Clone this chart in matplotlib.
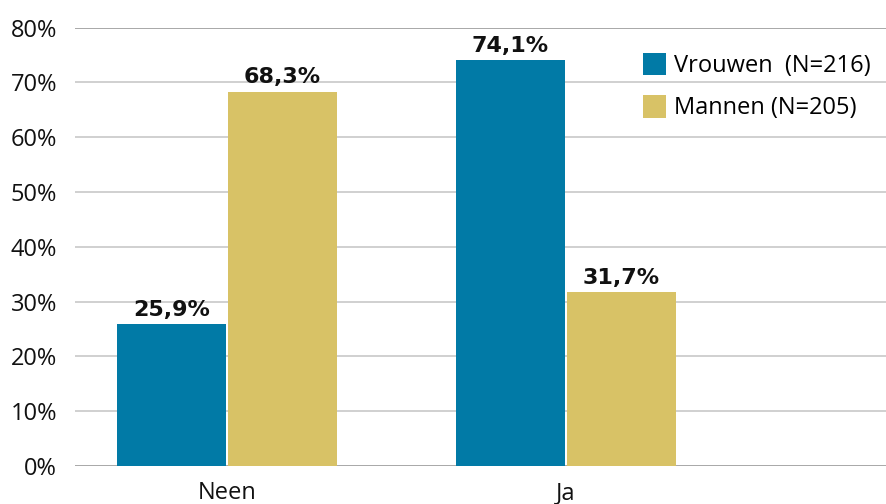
import matplotlib
matplotlib.use("Agg")
import matplotlib.pyplot as plt
import numpy as np

categories = ["Neen", "Ja"]
vrouwen = [25.9, 74.1]
mannen = [68.3, 31.7]
series_labels = ["Vrouwen  (N=216)", "Mannen (N=205)"]
yticks = [0, 10, 20, 30, 40, 50, 60, 70, 80]

BLUE = "#017AA6"
GOLD = "#D8C266"

plt.rcParams["font.family"] = ["Open Sans", "DejaVu Sans"]

fig = plt.figure(figsize=(8.86, 5.04), dpi=100)
ax = fig.add_axes([0.0847, 0.0754, 0.9153, 0.870])

x = np.arange(len(categories))
w = 0.3215
gap = 0.003
b1 = ax.bar(x - w / 2 - gap, vrouwen, w, color=BLUE, label=series_labels[0], zorder=3)
b2 = ax.bar(x + w / 2 + gap, mannen, w, color=GOLD, label=series_labels[1], zorder=3)

for bars, vals in ((b1, vrouwen), (b2, mannen)):
    for bar, v in zip(bars, vals):
        ax.annotate(("%.1f%%" % v).replace(".", ","),
                    (bar.get_x() + bar.get_width() / 2, v),
                    xytext=(0, 3), textcoords="offset points",
                    ha="center", va="bottom", fontsize=16, fontweight="bold",
                    family="DejaVu Sans", color="#111111")

ax.set_xlim(-0.448, 1.944)
ax.set_ylim(0, 80)
ax.set_yticks(yticks)
ax.set_yticklabels(["%d%%" % t for t in yticks])
ax.set_xticks(x)
ax.set_xticklabels(categories)
ax.tick_params(axis="both", length=0, labelsize=17, colors="#111111")
ax.tick_params(axis="y", pad=13)
ax.tick_params(axis="x", pad=11)

for t in yticks:
    c = "#9a9a9a" if t in (0, 80) else "#c8c8c8"
    ax.axhline(t, color=c, linewidth=1.2, zorder=1)
for s in ax.spines.values():
    s.set_visible(False)

leg = ax.legend(loc="upper left", bbox_to_anchor=(0.689, 0.964), frameon=False,
                fontsize=17, handlelength=0.97, handleheight=1.1,
                handletextpad=0.35, labelspacing=0.72, borderaxespad=0)

fig.savefig("out.png", dpi=100)
